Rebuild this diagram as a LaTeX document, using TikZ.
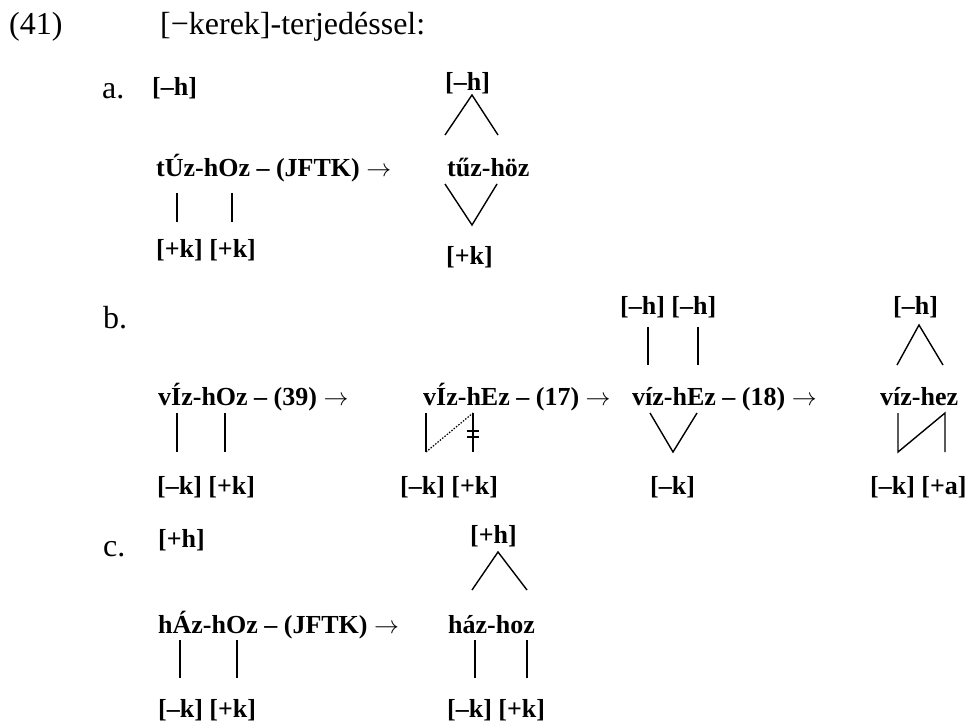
\documentclass[tikz,border=0pt]{standalone}
\usepackage{fontspec}
\setmainfont{Liberation Serif}
\newcommand{\goesto}{\ensuremath{\rightarrow}}
\begin{document}
\begin{tikzpicture}[x=1pt,y=-1pt,
  big/.style={anchor=base west,inner sep=0pt,font=\fontsize{32}{38}\selectfont},
  word/.style={anchor=base west,inner sep=0pt,font=\fontsize{26}{31}\selectfont\bfseries},
  feat/.style={anchor=base west,inner sep=0pt,font=\fontsize{26}{31}\selectfont\bfseries},
  assoc/.style={line width=1.4pt}]
\useasboundingbox (0,0) rectangle (970,722);
\node[big] (num) at (9,35) {(41)};
\node[big] (title) at (160,35) {[−kerek]-terjedéssel:};
% a.
\node[big] (la) at (102,99) {a.};
\node[feat] (aH1) at (152,96) {[–h]};
\node[feat] (aH2) at (445,91) {[–h]};
\node[word] (aW1) at (156,177) {tÚz-hOz – (JFTK) \goesto};
\node[word] (aW2) at (447,177) {tűz-höz};
\node[feat] (aK1) at (156,258) {[+k] [+k]};
\node[feat] (aK2) at (446,265) {[+k]};
\draw[assoc] (445,135) -- (472,95) -- (498,135);
\draw[assoc] (177,193) -- (177,222);
\draw[assoc] (232,193) -- (232,222);
\draw[assoc] (445,184) -- (472,225) -- (497,184);
% b.
\node[big] (lb) at (103,328) {b.};
\node[feat] (bH1) at (620,315) {[–h] [–h]};
\node[feat] (bH2) at (893,315) {[–h]};
\node[word] (bW1) at (158,405) {vÍz-hOz – (39) \goesto};
\node[word] (bW2) at (423,405) {vÍz-hEz – (17) \goesto};
\node[word] (bW3) at (632,405) {víz-hEz – (18) \goesto};
\node[word] (bW4) at (880,405) {víz-hez};
\node[feat] (bK1) at (157,494) {[–k] [+k]};
\node[feat] (bK2) at (400,494) {[–k] [+k]};
\node[feat] (bK3) at (650,494) {[–k]};
\node[feat] (bK4) at (870,494) {[–k] [+a]};
\draw[assoc] (177,413) -- (177,452);
\draw[assoc] (225,413) -- (225,452);
\draw[assoc] (426,413) -- (426,452);
\draw[line width=1.2pt,dash pattern=on 1.5pt off 1.5pt] (426,452) -- (473,413);
\draw[assoc] (473,413) -- (473,452);
\draw[assoc] (467,431) -- (479,431);
\draw[assoc] (467,437) -- (479,437);
\draw[assoc] (648,327) -- (648,365);
\draw[assoc] (698,327) -- (698,365);
\draw[assoc] (650,413) -- (673,452) -- (697,413);
\draw[assoc] (897,365) -- (919,325) -- (943,365);
\draw[assoc] (898,413) -- (898,452) -- (945,413) -- (945,452);
% c.
\node[big] (lc) at (103,556) {c.};
\node[feat] (cH1) at (158,547) {[+h]};
\node[feat] (cH2) at (470,543) {[+h]};
\node[word] (cW1) at (158,633) {hÁz-hOz – (JFTK) \goesto};
\node[word] (cW2) at (448,633) {ház-hoz};
\node[feat] (cK1) at (158,717) {[–k] [+k]};
\node[feat] (cK2) at (447,717) {[–k] [+k]};
\draw[assoc] (472,590) -- (498,552) -- (527,590);
\draw[assoc] (180,640) -- (180,678);
\draw[assoc] (237,640) -- (237,678);
\draw[assoc] (475,640) -- (475,678);
\draw[assoc] (527,640) -- (527,678);
\end{tikzpicture}
\end{document}
